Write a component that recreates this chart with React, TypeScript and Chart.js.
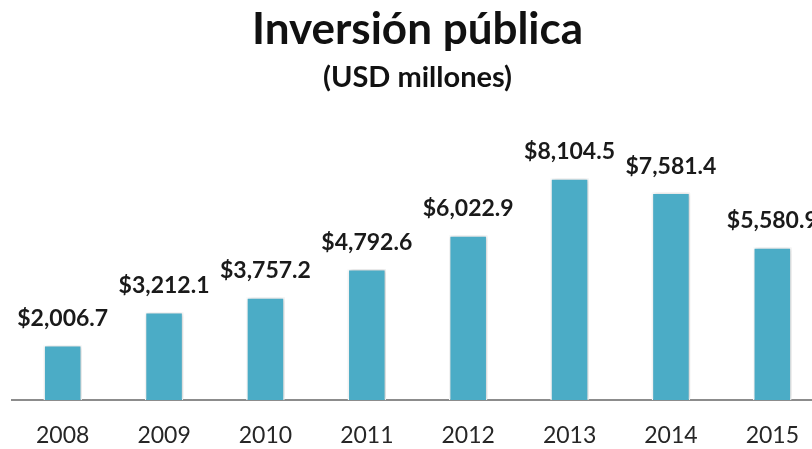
import React, { useEffect, useRef } from "react";
import { Chart, registerables } from "chart.js";

Chart.register(...registerables);

const years = ["2008", "2009", "2010", "2011", "2012", "2013", "2014", "2015"];
const investment = [2006.7, 3212.1, 3757.2, 4792.6, 6022.9, 8104.5, 7581.4, 5580.9];
const titleText = "Inversión pública";
const subtitleText = "(USD millones)";

const fmt = (v: number) =>
  "$" + v.toLocaleString("en-US", { minimumFractionDigits: 1, maximumFractionDigits: 1 });

const shadowPlugin = {
  id: "barShadow",
  beforeDatasetDraw(chart: any) {
    const ctx = chart.ctx;
    ctx.save();
    ctx.shadowColor = "rgba(0,0,0,0.22)";
    ctx.shadowBlur = 4;
    ctx.shadowOffsetX = 1;
    ctx.shadowOffsetY = 0;
  },
  afterDatasetDraw(chart: any) {
    chart.ctx.restore();
  },
};

const labelPlugin = {
  id: "valueLabels",
  afterDatasetsDraw(chart: any) {
    const ctx = chart.ctx;
    const meta = chart.getDatasetMeta(0);
    const data = chart.data.datasets[0].data as number[];
    ctx.save();
    ctx.font = "bold 23px Lato";
    ctx.fillStyle = "#1a1a1a";
    ctx.textAlign = "center";
    ctx.textBaseline = "alphabetic";
    meta.data.forEach((bar: any, i: number) => {
      ctx.fillText(fmt(data[i]), bar.x, bar.y - 19);
    });
    ctx.restore();
  },
};

export default function App() {
  const ref = useRef<HTMLCanvasElement>(null);
  useEffect(() => {
    if (!ref.current) return;
    const chart = new Chart(ref.current, {
      type: "bar",
      data: {
        labels: years,
        datasets: [
          {
            data: investment,
            backgroundColor: "#4BACC6",
            borderColor: "#ffffff",
            borderWidth: 1.5,
            barPercentage: 0.38,
            categoryPercentage: 1,
          },
        ],
      },
      options: {
        animation: false,
        responsive: false,
        layout: { padding: { left: 12, right: 7, top: 0, bottom: 0 } },
        plugins: {
          legend: { display: false },
          tooltip: { enabled: false },
          title: {
            display: true,
            text: titleText,
            color: "#111111",
            font: { family: "Lato", size: 44, weight: "bold" },
            padding: { top: 3, bottom: 0 },
          },
          subtitle: {
            display: true,
            text: subtitleText,
            color: "#111111",
            font: { family: "Lato", size: 29, weight: "bold" },
            padding: { top: 4, bottom: 34 },
          },
        },
        scales: {
          y: { display: false, min: 0, max: 9920 },
          x: {
            grid: { display: true, drawOnChartArea: false, drawTicks: false },
            border: { display: true, color: "#8c8c8c", width: 2 },
            ticks: {
              color: "#262626",
              padding: 22,
              font: { family: "Lato", size: 23 },
            },
            afterFit: (scale: any) => {
              scale.height = 49;
            },
          },
        },
      },
      plugins: [shadowPlugin, labelPlugin],
    });
    return () => chart.destroy();
  }, []);
  return (
    <div
      style={{
        position: "fixed",
        left: 0,
        top: 0,
        width: 812,
        height: 449,
        overflow: "hidden",
        background: "#ffffff",
      }}
    >
      <canvas ref={ref} width={830} height={449} style={{ display: "block" }} />
    </div>
  );
}
